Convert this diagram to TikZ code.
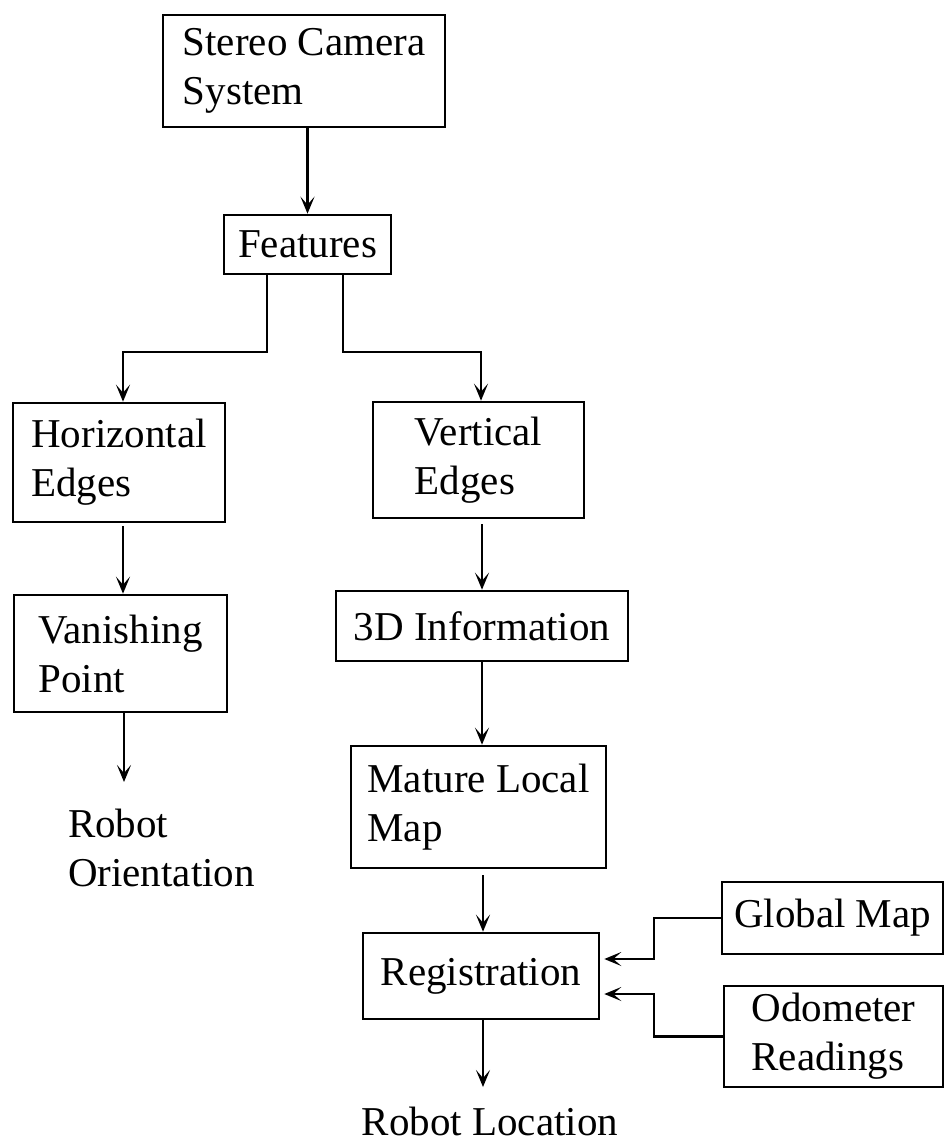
\documentclass[tikz,border=0pt]{standalone}
\usepackage{fontspec}
\setmainfont{Liberation Serif}
\usetikzlibrary{arrows.meta}

\begin{document}
\begin{tikzpicture}[x=1pt,y=-1pt,
  every node/.style={font=\fontsize{41}{49}\selectfont, inner sep=0pt, align=left},
  stage/.style={draw, line width=2.6pt, fill=white},
  arr/.style={line width=2.4pt, -{Stealth[length=17pt,width=14pt,inset=8pt]}}
]
\useasboundingbox (0,0) rectangle (944,1142);

% processing stages
\node[stage, minimum width=282pt, minimum height=112pt] (st) at (304,71)   {Stereo Camera\\System};
\node[stage, minimum width=167pt, minimum height=59pt]  (feat) at (307.5,244.5) {Features};
\node[stage, minimum width=212pt, minimum height=119pt] (he) at (119,462.5) {Horizontal\\Edges};
\node[stage, minimum width=211pt, minimum height=116pt] (ve) at (478.5,460) {Vertical\\Edges};
\node[stage, minimum width=213pt, minimum height=117pt] (vp) at (120.5,653.5) {Vanishing\\Point};
\node[stage, minimum width=292pt, minimum height=70pt]  (td) at (482,626)   {3D Information};
\node[stage, minimum width=255pt, minimum height=122pt] (ml) at (478.5,807) {Mature Local\\Map};
\node[stage, minimum width=236pt, minimum height=86pt]  (reg) at (481,976)  {Registration};
\node[stage, minimum width=221pt, minimum height=72pt]  (gm) at (832.5,918) {Global Map};
\node[stage, minimum width=219pt, minimum height=101pt] (od) at (833.5,1036.5) {Odometer\\Readings};

% outputs
\node (ro) at (161.5,848) {Robot\\Orientation};
\node[anchor=base] (rl) at (490,1135) {Robot Location};

% bends and free arrow ends
\coordinate (jl) at (123,352);
\coordinate (jr) at (481,352);
\coordinate (jg) at (654,959);
\coordinate (jo) at (654,994);
\coordinate (roTip) at (124,782);
\coordinate (rlTip) at (483,1087);

% connectors
\draw[arr] (st.south -| feat) -- (feat.north);
\draw[arr] ([xshift=-40.5pt]feat.south) |- (jl) -- (he.north -| jl);
\draw[arr] ([xshift=35.5pt]feat.south) |- (jr) -- (ve.north -| jr);
\draw[arr] ([yshift=-3pt]he.south -| jl) -- (vp.north -| jl);
\draw[arr] (vp.south -| roTip) -- (roTip);
\draw[arr] ([yshift=-5pt]ve.south -| td) -- (td.north);
\draw[arr] (td.south) -- (ml.north -| td);
\draw[arr, shorten <=6pt] (ml.south -| rlTip) -- (reg.north -| rlTip);
\draw[arr] (reg.south -| rlTip) -- (rlTip);
\draw[arr, shorten >=4pt] (gm.west) -| (jg) -- (reg.east |- jg);
\draw[arr, shorten >=4pt] (od.west) -| (jo) -- (reg.east |- jo);
\end{tikzpicture}
\end{document}
